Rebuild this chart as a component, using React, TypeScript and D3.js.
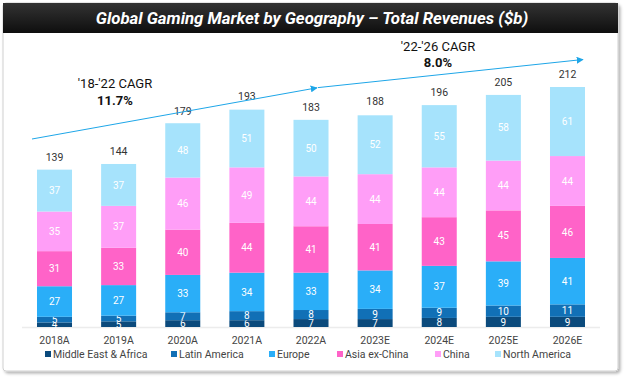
import React from "react";
import * as d3 from "d3";

const categories = ["2018A", "2019A", "2020A", "2021A", "2022A", "2023E", "2024E", "2025E", "2026E"];
const seriesNames = ["Middle East & Africa", "Latin America", "Europe", "Asia ex-China", "China", "North America"];
const meaValues = [4, 5, 6, 6, 7, 7, 8, 9, 9];
const latamValues = [5, 5, 7, 8, 8, 9, 9, 10, 11];
const europeValues = [27, 27, 33, 34, 33, 34, 37, 39, 41];
const asiaValues = [31, 33, 40, 44, 41, 41, 43, 45, 46];
const chinaValues = [35, 37, 46, 49, 44, 44, 44, 44, 44];
const naValues = [37, 37, 48, 51, 50, 52, 55, 58, 61];
const totals = [139, 144, 179, 193, 183, 188, 196, 205, 212];
const colors = ["#0b4a7c", "#1170b6", "#2aaef8", "#ff63c8", "#ff9ef7", "#a6e3fc"];
const title = "Global Gaming Market by Geography – Total Revenues ($b)";
const cagr1 = ["'18-'22 CAGR", "11.7%"];
const cagr2 = ["'22-'26 CAGR", "8.0%"];

export default function App() {
  const W = 624, H = 378;
  const seriesValues = [meaValues, latamValues, europeValues, asiaValues, chinaValues, naValues];
  const rows = categories.map((c, i) => {
    const r: any = { cat: c };
    seriesNames.forEach((s, k) => (r[s] = seriesValues[k][i]));
    return r;
  });
  const stack = d3.stack<any>().keys(seriesNames)(rows);
  const x = d3.scaleBand().domain(categories).range([22.44, 599.56]).paddingInner(0.454).paddingOuter(0.227);
  const y = d3.scaleLinear().domain([0, 212]).range([327, 87]);
  const bw = x.bandwidth();
  const font = "Roboto, 'Liberation Sans', Arial, sans-serif";

  const a1s: [number, number] = [32, 139];
  const a1e: [number, number] = [317, 87.8];
  const a2s: [number, number] = [318, 87.6];
  const a2e: [number, number] = [583, 59.5];
  const line = d3.line();

  const legendX = [45, 171, 269, 337, 435, 495];

  return (
    <svg width={W} height={H} style={{ position: "absolute", left: 0, top: 0 }} fontFamily={font}>
      <defs>
        <linearGradient id="tb" x1="0" y1="0" x2="0" y2="1">
          <stop offset="0" stopColor="#333" />
          <stop offset="1" stopColor="#0e0e0e" />
        </linearGradient>
        <filter id="sh" x="-5%" y="-5%" width="110%" height="115%">
          <feDropShadow dx="2" dy="2" stdDeviation="1.5" floodColor="#000" floodOpacity="0.3" />
        </filter>
        <marker id="ah" viewBox="0 0 10 10" refX="9" refY="5" markerWidth="7" markerHeight="7" orient="auto" markerUnits="userSpaceOnUse">
          <path d="M0,0 L10,5 L0,10 z" fill="#1ea6e8" />
        </marker>
      </defs>
      <rect x={0} y={0} width={W} height={H} fill="#fff" />
      <rect x={3} y={3} width={615} height={368} rx={3} fill="#fff" stroke="#d0d0d0" strokeWidth={1} filter="url(#sh)" />
      <rect x={3} y={3} width={615} height={30} fill="url(#tb)" />
      <text x={312} y={24} textAnchor="middle" fill="#fff" fontSize={16.8} fontWeight="bold" fontStyle="italic">
        {title}
      </text>

      <line x1={22} x2={600} y1={327.5} y2={327.5} stroke="#ececec" strokeWidth={1.5} />

      {stack.map((s, k) => (
        <g key={seriesNames[k]}>
          {s.map((d, i) => {
            const y0 = y(d[0]), y1 = y(d[1]);
            const x0 = x(categories[i])!;
            return (
              <g key={i}>
                <rect x={x0} y={y1} width={bw} height={y0 - y1} fill={colors[k]} />
                <text x={x0 + bw / 2} y={(y0 + y1) / 2 + 3.6} textAnchor="middle" fill="#fff" fontSize={10}>
                  {seriesValues[k][i]}
                </text>
              </g>
            );
          })}
        </g>
      ))}

      {totals.map((t, i) => (
        <text key={i} x={x(categories[i])! + bw / 2} y={y(t) - 9} textAnchor="middle" fill="#333" fontSize={10.5}>
          {t}
        </text>
      ))}

      {categories.map((c) => (
        <text key={c} x={x(c)! + bw / 2} y={344} textAnchor="middle" fill="#444" fontSize={10.5}>
          {c}
        </text>
      ))}

      <path d={line([a1s, a1e])!} stroke="#1ea6e8" strokeWidth={1} fill="none" markerEnd="url(#ah)" />
      <path d={line([a2s, a2e])!} stroke="#1ea6e8" strokeWidth={1} fill="none" markerEnd="url(#ah)" />

      <text x={115} y={88} textAnchor="middle" fill="#111" fontSize={13}>{cagr1[0]}</text>
      <text x={115} y={105} textAnchor="middle" fill="#111" fontSize={13} fontWeight="bold">{cagr1[1]}</text>
      <text x={438} y={51} textAnchor="middle" fill="#111" fontSize={13}>{cagr2[0]}</text>
      <text x={438} y={67} textAnchor="middle" fill="#111" fontSize={13} fontWeight="bold">{cagr2[1]}</text>

      {seriesNames.map((s, k) => (
        <g key={s}>
          <rect x={legendX[k]} y={351} width={6} height={6} fill={colors[k]} />
          <text x={legendX[k] + 8} y={358} fill="#444" fontSize={10.5}>{s}</text>
        </g>
      ))}
    </svg>
  );
}
